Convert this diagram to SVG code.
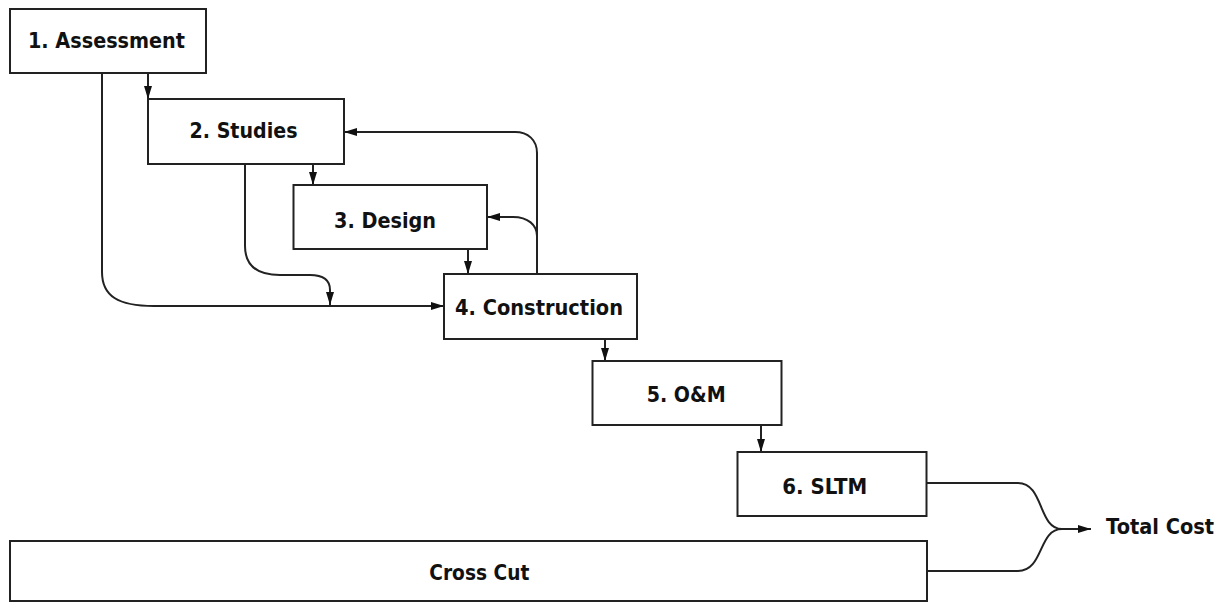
<svg xmlns="http://www.w3.org/2000/svg" width="1226" height="604" viewBox="0 0 1226 604">
<style>
.box{fill:#fff;stroke:#222;stroke-width:2}
.lbl{font-family:"DejaVu Sans","Liberation Sans",sans-serif;font-weight:bold;font-size:20.5px;fill:#111}
.conn path{fill:none;stroke:#222;stroke-width:2}
</style>
<defs>
<marker id="ah" markerUnits="userSpaceOnUse" markerWidth="14" markerHeight="9" refX="13" refY="4" orient="auto">
<path d="M0,0 L13,4 L0,8 z" fill="#111"/>
</marker>
</defs>
<rect width="1226" height="604" fill="#fff"/>
<g class="conn">
<path d="M148,73 V99" marker-end="url(#ah)"/>
<path d="M102,73 V272 C102,296 118,306 154,306 H444" marker-end="url(#ah)"/>
<path d="M245,164 V246 C245,266 258,275 280,275 H310 C324,275 330,280 330,290 V305" marker-end="url(#ah)"/>
<path d="M313,164 V185" marker-end="url(#ah)"/>
<path d="M468,249 V274" marker-end="url(#ah)"/>
<path d="M537,274 V153 C537,140 528,132 515,132 H344" marker-end="url(#ah)"/>
<path d="M537,236 C537,225 528,217 513,217 H487" marker-end="url(#ah)"/>
<path d="M605,339 V361" marker-end="url(#ah)"/>
<path d="M761,425 V452" marker-end="url(#ah)"/>
<path d="M927,483 H1018 C1044,483 1038,529 1062,529 H1091" marker-end="url(#ah)"/>
<path d="M927,571 H1018 C1044,571 1038,529 1062,529"/>
</g>
<g id="n1"><rect class="box" x="10" y="9" width="196" height="64"/><text class="lbl" x="28" y="47.5" textLength="157" lengthAdjust="spacingAndGlyphs">1. Assessment</text></g>
<g id="n2"><rect class="box" x="148" y="99" width="196" height="65"/><text class="lbl" x="189.5" y="138" textLength="108" lengthAdjust="spacingAndGlyphs">2. Studies</text></g>
<g id="n3"><rect class="box" x="293.5" y="185" width="193.5" height="64"/><text class="lbl" x="334" y="227.5" textLength="102" lengthAdjust="spacingAndGlyphs">3. Design</text></g>
<g id="n4"><rect class="box" x="444" y="274" width="193" height="65"/><text class="lbl" x="455" y="314.5" textLength="168" lengthAdjust="spacingAndGlyphs">4. Construction</text></g>
<g id="n5"><rect class="box" x="592.5" y="361" width="189" height="64"/><text class="lbl" x="646.7" y="402" textLength="79" lengthAdjust="spacingAndGlyphs">5. O&amp;M</text></g>
<g id="n6"><rect class="box" x="737.5" y="452" width="189" height="64"/><text class="lbl" x="782.3" y="493.5" textLength="85" lengthAdjust="spacingAndGlyphs">6. SLTM</text></g>
<g id="n7"><rect class="box" x="10" y="541" width="917" height="60"/><text class="lbl" x="429.3" y="579.5" textLength="100" lengthAdjust="spacingAndGlyphs">Cross Cut</text></g>
<g id="n8"><text class="lbl" x="1106" y="533.5" textLength="108" lengthAdjust="spacingAndGlyphs">Total Cost</text></g>
</svg>
